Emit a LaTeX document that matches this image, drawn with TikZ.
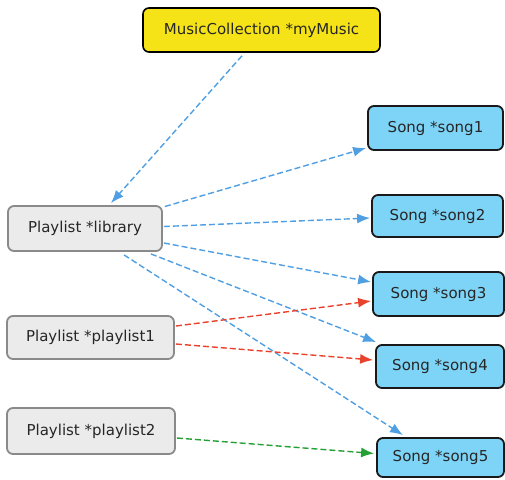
\documentclass[tikz,border=0pt]{standalone}
\usepackage{fontspec}
\setmainfont{DejaVu Sans}
\usetikzlibrary{arrows.meta}
\definecolor{ylw}{HTML}{F5E318}
\definecolor{sky}{HTML}{7DD4F7}
\definecolor{pgray}{HTML}{EBEBEB}
\definecolor{pedge}{HTML}{8A8A8A}
\definecolor{lblue}{HTML}{4F9FE2}
\definecolor{lred}{HTML}{E8412C}
\definecolor{lgreen}{HTML}{25A035}
\tikzset{
  box/.style={rounded corners=6pt, inner sep=0pt, font=\fontsize{15}{17}\selectfont, text=black!85},
  mcbox/.style={box, draw=black, line width=1.6pt, fill=ylw},
  plbox/.style={box, draw=pedge, line width=1.8pt, fill=pgray},
  songbox/.style={box, draw=black!90, line width=1.8pt, fill=sky},
  conn/.style={line width=1.4pt, dash pattern=on 6pt off 3pt, -{Latex[length=13pt,width=10pt]}},
  bconn/.style={conn, lblue},
  rconn/.style={conn, lred},
  gconn/.style={conn, lgreen}
}
\begin{document}
\begin{tikzpicture}[x=1pt,y=-1pt]
\useasboundingbox (0,0) rectangle (505,479);
\node[mcbox, minimum width=237pt, minimum height=44pt] (mc) at (261.5,30) {MusicCollection *myMusic};
\node[plbox, minimum width=154pt, minimum height=45pt] (lib) at (85,228.5) {Playlist *library};
\node[plbox, minimum width=167pt, minimum height=43pt] (p1) at (90.5,337.5) {Playlist *playlist1};
\node[plbox, minimum width=168pt, minimum height=46pt] (p2) at (91,431) {Playlist *playlist2};
\node[songbox, minimum width=135pt, minimum height=44pt] (s1) at (435.5,128) {Song *song1};
\node[songbox, minimum width=131pt, minimum height=42pt] (s2) at (437.5,216) {Song *song2};
\node[songbox, minimum width=131pt, minimum height=44pt] (s3) at (438.5,294) {Song *song3};
\node[songbox, minimum width=128pt, minimum height=43pt] (s4) at (440,366.5) {Song *song4};
\node[songbox, minimum width=127pt, minimum height=39pt] (s5) at (440.5,457.5) {Song *song5};

\draw[bconn] ([xshift=-19.5pt,yshift=-3pt]mc.south) -- ([xshift=26pt,yshift=2pt]lib.north);
\draw[bconn] ([xshift=2pt,yshift=22pt]lib.east) -- ([xshift=-1pt,yshift=-20pt]s1.west);
\draw[bconn] ([xshift=1pt,yshift=2pt]lib.east) -- ([xshift=-1pt,yshift=-2pt]s2.west);
\draw[bconn] ([xshift=1pt,yshift=-14.5pt]lib.east) -- ([xshift=-1pt,yshift=12pt]s3.west);
\draw[bconn] ([xshift=-12pt,yshift=-2pt]lib.south east) -- ([xshift=1pt,yshift=2pt]s4.north west);
\draw[bconn] ([xshift=39pt,yshift=-3pt]lib.south) -- ([xshift=-37.5pt,yshift=2pt]s5.north);
\draw[rconn] ([xshift=1pt,yshift=11.5pt]p1.east) -- ([xshift=-1pt,yshift=-7pt]s3.west);
\draw[rconn] ([xshift=1pt,yshift=-6.5pt]p1.east) -- ([xshift=-2pt,yshift=6.5pt]s4.west);
\draw[gconn] ([xshift=1pt,yshift=-7pt]p2.east) -- ([xshift=-2pt,yshift=4pt]s5.west);
\end{tikzpicture}
\end{document}
